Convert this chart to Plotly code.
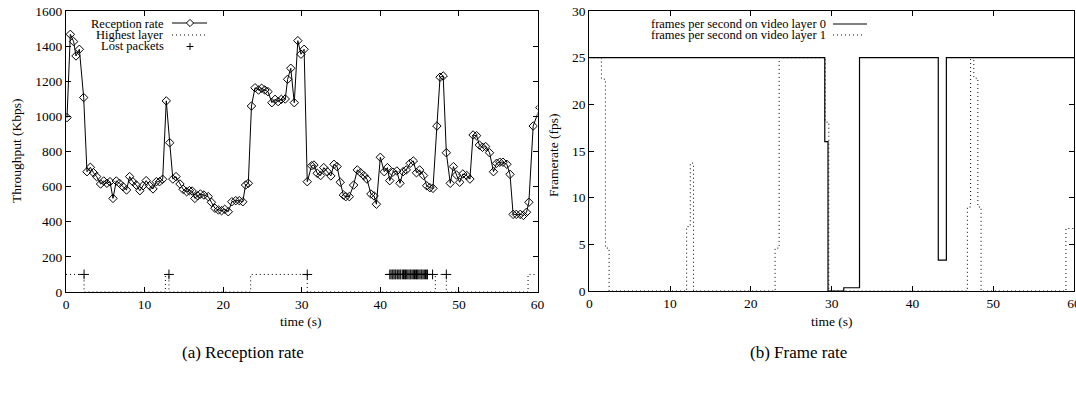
import plotly.graph_objects as go

# ---------------- data ----------------
rx_time = [0.13, 0.55, 0.97, 1.27, 1.7, 2.25, 2.67, 3.1, 3.5, 3.9, 4.4, 4.8, 5.2, 5.6, 5.98,
           6.4, 6.8, 7.25, 7.7, 8.1, 8.5, 8.95, 9.4, 9.8, 10.2, 10.65, 11.07, 11.5, 11.9, 12.3,
           12.76, 13.2, 13.6, 14.0, 14.5, 14.9, 15.35, 15.7, 16.05, 16.4, 16.75, 17.1, 17.55,
           18.1, 18.5, 18.95, 19.4, 19.8, 20.2, 20.65, 21.1, 21.6, 22.05, 22.5, 22.85, 23.2,
           23.6, 24.05, 24.5, 24.9, 25.3, 25.7, 26.2, 26.6, 27.0, 27.4, 27.9, 28.2, 28.6, 29.05,
           29.5, 29.9, 30.3, 30.7, 31.26, 31.55, 31.97, 32.4, 32.8, 33.25, 33.7, 34.1, 34.5,
           34.9, 35.3, 35.6, 36.05, 36.6, 37.07, 37.5, 37.9, 38.3, 38.8, 39.2, 39.5, 40.0, 40.5,
           40.9, 41.2, 41.6, 42.1, 42.5, 42.9, 43.3, 43.8, 44.2, 44.6, 45.0, 45.5, 45.9, 46.3,
           46.7, 47.2, 47.6, 48.0, 48.4, 48.9, 49.3, 49.7, 50.1, 50.5, 51.0, 51.4, 51.8, 52.25,
           52.6, 53.0, 53.4, 53.9, 54.4, 54.8, 55.2, 55.6, 56.1, 56.5, 56.9, 57.3, 57.8, 58.2,
           58.6, 58.9, 59.45, 60.3]
rx_rate = [993, 1467, 1426, 1344, 1382, 1107, 685, 710, 679, 657, 615, 632, 619, 628, 533,
           632, 619, 600, 581, 657, 628, 609, 577, 605, 634, 605, 587, 628, 628, 642,
           1088, 850, 643, 657, 615, 585, 571, 577, 575, 533, 548, 558, 552,
           543, 511, 477, 467, 463, 471, 457, 514, 520, 520, 514, 609, 619,
           1059, 1163, 1150, 1160, 1150, 1141, 1078, 1097, 1084, 1097, 1099, 1211, 1274, 1078,
           1431, 1354, 1382, 628, 719, 723, 676, 663, 708, 685, 661, 727, 714,
           625, 552, 543, 543, 609, 695, 679, 663, 643, 558, 547, 500, 767, 685,
           708, 634, 682, 689, 619, 685, 695, 733, 746, 679, 695, 663, 605, 594,
           590, 945, 1223, 1230, 793, 619, 714, 666, 625, 672, 663, 643, 894, 890,
           837, 824, 828, 793, 685, 733, 739, 739, 727, 670, 442, 442, 442, 436,
           454, 511, 945, 1050]

layer_time = [0.0, 2.3, 12.65, 13.1, 23.5, 30.7, 47.0, 48.4, 58.8, 60.0]
layer_val = [100, 0, 100, 0, 100, 0, 100, 0, 100, 100]

lost_time = [2.3, 13.1, 30.7,
             41.2, 41.35, 41.5, 41.6, 41.75, 41.9, 42.0, 42.2, 42.35, 42.5, 42.6, 42.8,
             42.95, 43.1, 43.2, 43.35, 43.5, 43.65, 43.8, 43.9, 44.05, 44.2, 44.35, 44.5,
             44.6, 44.75, 44.9, 45.05, 45.2, 45.3, 45.45, 45.6, 45.75, 45.9, 46.0,
             46.65, 48.4]
lost_val = [100] * len(lost_time)

fps0_time = [0.0, 29.15, 29.55, 31.5, 33.45, 43.2, 44.2, 60.0]
fps0_val = [25, 16.0, 0, 0.35, 25, 3.3, 25, 25]

fps1_time = [0.0, 1.5, 2.0, 2.45, 12.05, 12.5, 12.9, 23.0, 23.5, 29.2, 29.65,
             46.8, 47.2, 47.6, 48.1, 48.5, 59.0, 60.0]
fps1_val = [25, 22.7, 4.6, 0, 6.9, 13.7, 0, 4.6, 25, 18.1, 0,
            9.0, 25, 22.8, 9.0, 0, 6.7, 6.7]

left_yticks = [0, 200, 400, 600, 800, 1000, 1200, 1400, 1600]
right_yticks = [0, 5, 10, 15, 20, 25, 30]
xticks = [0, 10, 20, 30, 40, 50, 60]

# ---------------- figure ----------------
W, H = 1076, 395
FONT = "Liberation Serif"
DOT = "1px,3px"


def px(x):
    return x / W


def py(y):
    return 1 - y / H


fig = go.Figure()

fig.add_trace(go.Scatter(x=rx_time, y=rx_rate, mode="lines+markers", name="Reception rate",
                         line=dict(color="black", width=1),
                         marker=dict(symbol="diamond-open", size=6.5, color="black",
                                     line=dict(width=1, color="black")),
                         xaxis="x", yaxis="y", showlegend=False))
fig.add_trace(go.Scatter(x=layer_time, y=layer_val, mode="lines",
                         name="Highest layer", line=dict(color="black", width=1, dash=DOT,
                                                        shape="hv"),
                         xaxis="x", yaxis="y", showlegend=False))
fig.add_trace(go.Scatter(x=lost_time, y=lost_val, mode="markers", name="Lost packets",
                         marker=dict(symbol="cross-thin-open", size=7, color="black",
                                     line=dict(width=1, color="black")),
                         xaxis="x", yaxis="y", showlegend=False))

fig.add_trace(go.Scatter(x=fps1_time, y=fps1_val, mode="lines",
                         name="frames per second on video layer 1",
                         line=dict(color="black", width=1, dash=DOT, shape="hv"),
                         xaxis="x2", yaxis="y2", showlegend=False))
fig.add_trace(go.Scatter(x=fps0_time, y=fps0_val, mode="lines",
                         name="frames per second on video layer 0",
                         line=dict(color="black", width=1.2, shape="hv"),
                         xaxis="x2", yaxis="y2", showlegend=False))

axis_common = dict(showline=True, linecolor="black", linewidth=1, mirror="ticks",
                   ticks="inside", ticklen=5, tickwidth=1, tickcolor="black",
                   showgrid=False, zeroline=False, automargin=False,
                   ticklabeloverflow="allow",
                   tickfont=dict(family=FONT, size=13.5, color="black"))

fig.update_layout(
    template="none",
    width=W, height=H,
    margin=dict(l=0, r=0, t=0, b=0, pad=0),
    paper_bgcolor="white", plot_bgcolor="white",
    font=dict(family=FONT, size=13.5, color="black"),
    xaxis=dict(domain=[px(66), px(537.5)], range=[0, 60], tickvals=xticks,
               anchor="y", **axis_common),
    yaxis=dict(domain=[py(292), py(11)], range=[0, 1600], tickvals=left_yticks,
               anchor="x", **axis_common),
    xaxis2=dict(domain=[px(589.3), px(1074)], range=[0, 60], tickvals=xticks,
                anchor="y2", **axis_common),
    yaxis2=dict(domain=[py(291), py(11)], range=[0, 30], tickvals=right_yticks,
                anchor="x2", **axis_common),
)

ann = []


def text(x, y, s, size=13.5, xanchor="center", angle=0):
    ann.append(dict(x=px(x), y=py(y), xref="paper", yref="paper", text=s, showarrow=False,
                    xanchor=xanchor, yanchor="middle", textangle=angle,
                    font=dict(family=FONT, size=size, color="black")))


# axis titles
text(301, 321, "time (s)")
text(832, 321, "time (s)")
text(16, 151, "Throughput (Kbps)", angle=-90)
text(553, 155, "Framerate (fps)", angle=-90)
# captions
text(243, 352, "(a) Reception rate", size=17)
text(798, 352, "(b) Frame rate", size=17)
# legend texts
text(166, 24, "Reception rate", xanchor="right", size=12.5)
text(166, 35, "Highest layer", xanchor="right", size=12.5)
text(166, 46.5, "Lost packets", xanchor="right", size=12.5)
text(828, 24, "frames per second on video layer 0", xanchor="right", size=12.5)
text(828, 35, "frames per second on video layer 1", xanchor="right", size=12.5)

shapes = []


def seg(x0, y0, x1, y1, dash="solid", width=1):
    shapes.append(dict(type="line", xref="paper", yref="paper",
                       x0=px(x0), y0=py(y0), x1=px(x1), y1=py(y1),
                       line=dict(color="black", width=width, dash=dash)))


# legend keys
seg(172, 23, 207, 23)
cx, cy, r = 190, 23, 3.6
shapes.append(dict(type="path", xref="paper", yref="paper",
                   path=f"M {px(cx)},{py(cy - r)} L {px(cx + r)},{py(cy)} "
                        f"L {px(cx)},{py(cy + r)} L {px(cx - r)},{py(cy)} Z",
                   fillcolor="white", line=dict(color="black", width=1)))
seg(172, 35, 205, 35, dash=DOT)
seg(186.5, 46.5, 193.5, 46.5)
seg(190, 43, 190, 50)
seg(833, 24, 867, 24, width=1.2)
seg(833, 35, 864, 35, dash=DOT)

fig.update_layout(annotations=ann, shapes=shapes)

fig.write_html(
    "out.html",
    config={"displayModeBar": False},
    post_script="document.body.style.margin='0';document.body.style.overflow='hidden';",
)
